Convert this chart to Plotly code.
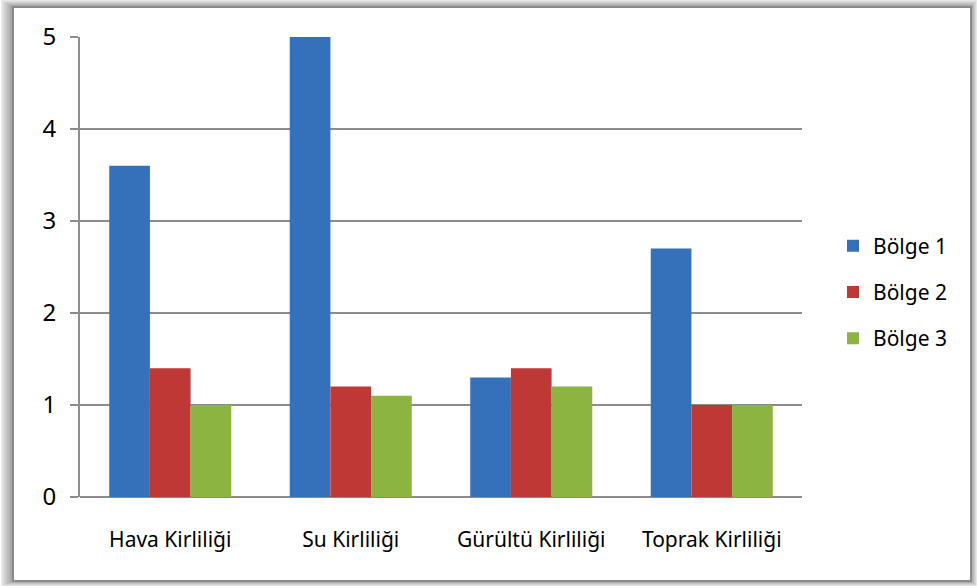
import plotly.graph_objects as go

# Pollution scores per region
categories = ["Hava Kirliliği", "Su Kirliliği", "Gürültü Kirliliği", "Toprak Kirliliği"]
bolge1 = [3.6, 5.0, 1.3, 2.7]
bolge2 = [1.4, 1.2, 1.4, 1.0]
bolge3 = [1.0, 1.1, 1.2, 1.0]
series_names = ["Bölge 1", "Bölge 2", "Bölge 3"]
series_colors = ["#3570BA", "#BE3835", "#8CB441"]

W, H = 977, 586
L, R, T, B = 80, 175, 37, 89
PW, PH = W - L - R, H - T - B


def px_x(x):
    return (x - L) / PW


def px_y(y):
    return (H - B - y) / PH


fig = go.Figure()
for name, vals, col in zip(series_names, [bolge1, bolge2, bolge3], series_colors):
    fig.add_trace(go.Bar(
        x=categories, y=vals, name=name, legendgroup=name,
        marker=dict(color=col, line=dict(width=0)),
    ))

shapes = []
# soft drop shadow behind the chart frame (outer bands lighter)
n = 12
for i in range(n, 0, -1):
    t = i / n
    g = int(150 + 85 * t)
    shapes.append(dict(
        type="rect", xref="paper", yref="paper", layer="below",
        x0=px_x(13 - i), x1=px_x(971 + 6 * t), y0=px_y(581 + 5 * t), y1=px_y(7 - 7 * t),
        line=dict(width=0), fillcolor="rgb(%d,%d,%d)" % (g, g, g),
    ))
# frame border
shapes.append(dict(
    type="rect", xref="paper", yref="paper", layer="below",
    x0=px_x(13), x1=px_x(971), y0=px_y(581), y1=px_y(7),
    line=dict(color="#8a8a8a", width=2), fillcolor="white",
))

fig.update_layout(
    width=W, height=H,
    margin=dict(l=L, r=R, t=T, b=B, pad=0),
    paper_bgcolor="white", plot_bgcolor="rgba(0,0,0,0)",
    barmode="group", bargap=0.324, bargroupgap=0,
    font=dict(family="Noto Sans, Open Sans, sans-serif", size=21, color="#000000"),
    shapes=shapes,
    showlegend=True,
    legend=dict(
        x=px_x(833), y=px_y(292), xanchor="left", yanchor="middle",
        font=dict(size=21), tracegroupgap=16, bgcolor="rgba(0,0,0,0)",
        itemwidth=30,
    ),
    xaxis=dict(
        showgrid=False, showline=False, ticks="", ticklabelstandoff=28,
        tickfont=dict(size=21),
    ),
    yaxis=dict(
        range=[0, 5], dtick=1, tick0=0,
        showgrid=True, gridcolor="#8c8c8c", gridwidth=2,
        showline=True, linecolor="#8c8c8c", linewidth=2,
        ticks="outside", ticklen=8, tickwidth=2, tickcolor="#8c8c8c",
        ticklabelstandoff=9, tickfont=dict(size=24),
        zeroline=True, zerolinecolor="#8c8c8c", zerolinewidth=2,
    ),
)

fig.write_html("out.html")
